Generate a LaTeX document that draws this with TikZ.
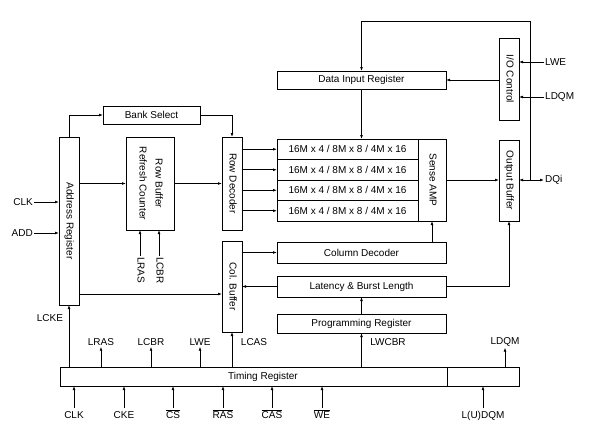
\documentclass[tikz,border=0pt]{standalone}
\usepackage{fontspec}
\setmainfont{Liberation Sans}
\usepackage{tikz}
\usetikzlibrary{positioning, arrows.meta}
\tikzset{
  blkbox/.style={rectangle, draw=black, line width=0.7pt, inner sep=0pt,
                 outer sep=0pt, align=center, font=\fontsize{10}{12}\selectfont},
  lbl/.style={inner sep=1pt, font=\fontsize{10}{12}\selectfont},
  inlbl/.style={lbl, text height=9pt, text depth=0pt, anchor=north},
  myarr/.style={-{Latex[length=4pt,width=2.8pt]}, line width=0.7pt},
  dblarr/.style={{Latex[length=4pt,width=2.8pt]}-{Latex[length=4pt,width=2.8pt]},
                 line width=0.7pt},
}
\newcommand{\ovl}[1]{$\overline{\mbox{#1}}$}
\newcommand{\vtxt}[1]{\rotatebox{-90}{\begin{tabular}{@{}c@{}}#1\end{tabular}}}

\begin{document}
\begin{tikzpicture}[x=1pt, y=-1pt]
  \useasboundingbox (0,0) rectangle (599,431);

  % address side
  \node[blkbox, minimum width=20pt, minimum height=168pt] (addr) at (69,221) {\vtxt{Address Register}};
  \node[blkbox, minimum width=97pt, minimum height=18pt] (bank) at (151.5,115) {Bank Select};
  \node[blkbox, minimum width=48pt, minimum height=93pt] (rbuf) at (150,183.5) {\vtxt{Row Buffer\\[4pt]Refresh Counter}};
  \node[blkbox, minimum width=20pt, minimum height=93pt] (rdec) at (232,183.5) {\vtxt{Row Decoder}};
  \node[blkbox, minimum width=20pt, minimum height=91pt] (cbuf) at (232,286.5) {\vtxt{Col. Buffer}};

  % memory array
  \node[blkbox, minimum width=141pt, minimum height=20.5pt, anchor=north west] (row1) at (277,139) {16M x 4 / 8M x 8 / 4M x 16};
  \node[blkbox, minimum width=141pt, minimum height=20.5pt, below=0pt of row1] (row2) {16M x 4 / 8M x 8 / 4M x 16};
  \node[blkbox, minimum width=141pt, minimum height=20.5pt, below=0pt of row2] (row3) {16M x 4 / 8M x 8 / 4M x 16};
  \node[blkbox, minimum width=141pt, minimum height=20.5pt, below=0pt of row3] (row4) {16M x 4 / 8M x 8 / 4M x 16};
  \node[blkbox, minimum width=28pt, minimum height=82pt] (sense) at (432,180) {\vtxt{Sense AMP}};

  \node[blkbox, minimum width=169pt, minimum height=18pt] (dinreg) at (361.5,80) {Data Input Register};
  \node[blkbox, minimum width=20pt, minimum height=82pt] (ioctl) at (509,79) {\vtxt{I/O Control}};
  \node[blkbox, minimum width=20pt, minimum height=81pt] (obuf) at (509,180.5) {\vtxt{Output Buffer}};

  \node[blkbox, minimum width=169pt, minimum height=21pt,
        below=21pt of row4.south west, anchor=north west] (coldec) {Column Decoder};
  \node[blkbox, minimum width=169pt, minimum height=21pt, below=13pt of coldec] (latency) {Latency \& Burst Length};
  \node[blkbox, minimum width=169pt, minimum height=19pt, below=17pt of latency] (progreg) {Programming Register};

  \node[blkbox, minimum width=387pt, minimum height=19pt] (timing) at (253.5,376.5) {\hspace*{19pt}Timing Register};
  \node[blkbox, minimum width=72pt, minimum height=19pt, right=0pt of timing] (dqmreg) {};

  % signal labels
  \node[lbl, anchor=east] (clkin) at (34,202) {CLK};
  \node[lbl, anchor=east] (addin) at (34,233) {ADD};
  \node[lbl, anchor=north] (rlras) at (140,256) {\vtxt{LRAS}};
  \node[lbl, anchor=north] (rlcbr) at (159,256) {\vtxt{LCBR}};
  \node[lbl, anchor=west] (dqi) at (544,180) {DQi};
  \node[lbl, anchor=west] (lwein) at (544,62) {LWE};
  \node[lbl, anchor=west] (ldqmin) at (544,97) {LDQM};

  \node[lbl] (lcke) at (50,318) {LCKE};
  \node[lbl] (lras) at (101,342) {LRAS};
  \node[lbl] (lcbr) at (151,342) {LCBR};
  \node[lbl] (lwe) at (200,342) {LWE};
  \node[lbl] (lcas) at (254,342) {LCAS};
  \node[lbl] (lwcbr) at (388,342) {LWCBR};
  \node[lbl] (ldqm) at (505,342) {LDQM};

  \node[inlbl] (clkb) at (74,408) {CLK};
  \node[inlbl] (ckeb) at (124,408) {CKE};
  \node[inlbl] (csb) at (173,408) {\ovl{CS}};
  \node[inlbl] (rasb) at (223,408) {\ovl{RAS}};
  \node[inlbl] (casb) at (272,408) {\ovl{CAS}};
  \node[inlbl] (web) at (322,408) {\ovl{WE}};
  \node[inlbl] (ludqm) at (483,408) {L(U)DQM};

  \coordinate (dqj) at (530,180);
  \coordinate (looptop) at (530,21);

  % connectors
  \draw[myarr] (clkin.east) -- (clkin.east -| addr.west);
  \draw[myarr] (addin.east) -- (addin.east -| addr.west);
  \draw[myarr] (addr.north) |- (bank.west);
  \draw[myarr] (bank.east) -| (rdec.north);
  \draw[myarr] (addr.east |- rbuf.west) -- (rbuf.west);
  \draw[myarr] (rbuf.east) -- (rdec.west);
  \draw[myarr] ([yshift=-7.5pt]addr.east |- cbuf.west) -- ([yshift=-7.5pt]cbuf.west);
  \draw[myarr] (rlras.north) -- (rlras.north |- rbuf.south);
  \draw[myarr] (rlcbr.north) -- (rlcbr.north |- rbuf.south);

  \draw[myarr] (rdec.east |- row1.west) -- (row1.west);
  \draw[myarr] (rdec.east |- row2.west) -- (row2.west);
  \draw[myarr] (rdec.east |- row3.west) -- (row3.west);
  \draw[myarr] (rdec.east |- row4.west) -- (row4.west);

  \draw[myarr] (cbuf.east |- coldec.west) -- (coldec.west);
  \draw[myarr] (latency.west) -- (latency.west -| cbuf.east);
  \draw[myarr] (sense.south |- coldec.north) -- (sense.south);
  \draw[myarr] (progreg.north) -- (latency.south);
  \draw[myarr] (latency.east) -| (obuf.south);
  \draw[myarr] (sense.east) -- (obuf.west |- sense.east);

  \draw[myarr] (ioctl.west |- dinreg.east) -- (dinreg.east);
  \draw[myarr] (dinreg.south) -- (dinreg.south |- row1.north);
  \draw[myarr] (lwein.west) -- (lwein.west -| ioctl.east);
  \draw[myarr] (ldqmin.west) -- (ldqmin.west -| ioctl.east);
  \draw[dblarr] (obuf.east |- dqi.west) -- (dqi.west);
  \draw[myarr] (dqj) -- (looptop) -| (dinreg.north);

  \draw[myarr] (timing.north -| addr) -- (addr.south);
  \draw[myarr] (timing.north -| lras) -- (lras.south);
  \draw[myarr] (timing.north -| lcbr) -- (lcbr.south);
  \draw[myarr] (timing.north -| lwe) -- (lwe.south);
  \draw[myarr] (timing.north -| cbuf) -- (cbuf.south);
  \draw[myarr] (timing.north -| progreg) -- (progreg.south);
  \draw[myarr] (dqmreg.north -| ldqm) -- (ldqm.south);

  \draw[myarr] (clkb.north) -- (clkb.north |- timing.south);
  \draw[myarr] (ckeb.north) -- (ckeb.north |- timing.south);
  \draw[myarr] (csb.north) -- (csb.north |- timing.south);
  \draw[myarr] (rasb.north) -- (rasb.north |- timing.south);
  \draw[myarr] (casb.north) -- (casb.north |- timing.south);
  \draw[myarr] (web.north) -- (web.north |- timing.south);
  \draw[myarr] (ludqm.north) -- (ludqm.north |- dqmreg.south);

\end{tikzpicture}
\end{document}
